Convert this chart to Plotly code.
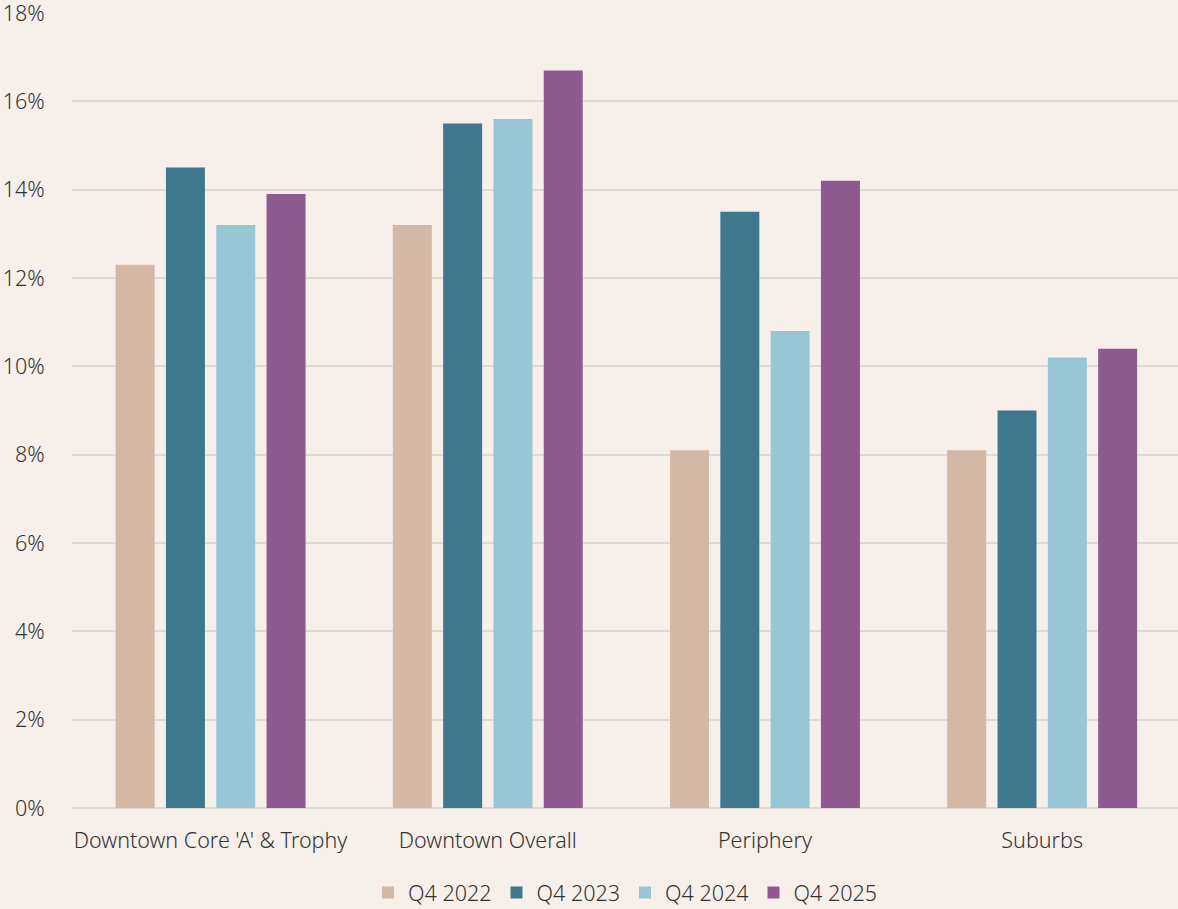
import plotly.graph_objects as go

categories = ["Downtown Core 'A' & Trophy", "Downtown Overall", "Periphery", "Suburbs"]
series_names = ["Q4 2022", "Q4 2023", "Q4 2024", "Q4 2025"]
q4_2022 = [12.3, 13.2, 8.1, 8.1]
q4_2023 = [14.5, 15.5, 13.5, 9.0]
q4_2024 = [13.2, 15.6, 10.8, 10.2]
q4_2025 = [13.9, 16.7, 14.2, 10.4]
colors = ["#D3B8A6", "#3F788C", "#97C6D5", "#8F5A90"]
y_ticks = [0, 2, 4, 6, 8, 10, 12, 14, 16, 18]

fig = go.Figure()
for name, vals, col in zip(series_names, [q4_2022, q4_2023, q4_2024, q4_2025], colors):
    fig.add_trace(go.Bar(x=categories, y=vals, name=name, marker=dict(color=col, line=dict(width=0))))

bg = "#F6EFEA"
fnt = dict(family="'Noto Sans', sans-serif", size=21.5, color="#333333", weight=300)
fig.update_layout(
    width=1178, height=909,
    paper_bgcolor=bg, plot_bgcolor=bg,
    margin=dict(l=72, r=0, t=13, b=101, autoexpand=False),
    barmode="group", bargap=0.274, bargroupgap=0.225,
    font=fnt,
    showlegend=True,
    legend=dict(orientation="h", x=0.5, xanchor="center", yref="container", y=0.018, yanchor="middle",
                font=fnt, itemwidth=30, traceorder="normal", bgcolor="rgba(0,0,0,0)"),
    xaxis=dict(range=[-0.5, 3.49], showgrid=False, showline=False, zeroline=False, ticks="outside", ticklen=13,
               tickcolor="rgba(0,0,0,0)", tickfont=fnt, ticklabeloverflow="allow", automargin=False),
    yaxis=dict(range=[0, 18], tickvals=y_ticks, ticktext=[f"{v}%" for v in y_ticks],
               showgrid=True, gridcolor="#DDDAD8", gridwidth=2, zeroline=True, zerolinecolor="#DDDAD8", zerolinewidth=2,
               showline=False, ticks="outside", ticklen=22, tickcolor="rgba(0,0,0,0)", tickfont=fnt,
               ticklabeloverflow="allow", automargin=False),
)

fig.write_html("out.html")
